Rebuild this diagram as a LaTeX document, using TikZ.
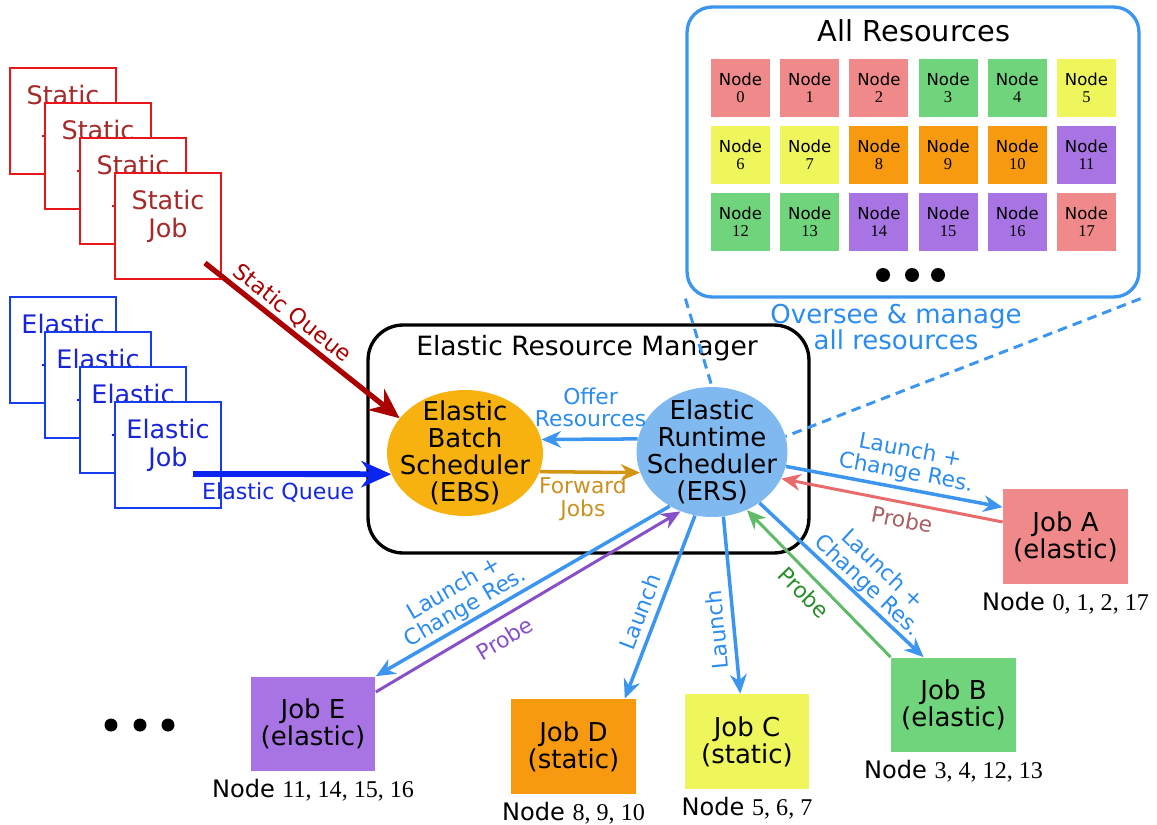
\documentclass[tikz,border=0pt]{standalone}
\usepackage{fontspec}
\setmainfont{DejaVu Sans}
\newfontfamily\numfont{Liberation Serif}
\usetikzlibrary{positioning, shapes.geometric, arrows.meta}

\definecolor{stackred}{RGB}{230,22,26}
\definecolor{stacktxtred}{RGB}{165,42,42}
\definecolor{stackblue}{RGB}{22,62,240}
\definecolor{stacktxtblue}{RGB}{24,36,214}
\definecolor{queuered}{RGB}{170,0,0}
\definecolor{queueblue}{RGB}{12,36,240}
\definecolor{queuetxtblue}{RGB}{20,40,225}
\definecolor{ebsfill}{RGB}{248,178,16}
\definecolor{ersfill}{RGB}{128,184,240}
\definecolor{flowblue}{RGB}{60,150,240}
\definecolor{flowtxt}{RGB}{42,140,240}
\definecolor{fwdgold}{RGB}{210,150,20}
\definecolor{fwdtxt}{RGB}{200,145,32}
\definecolor{jobpink}{RGB}{240,138,138}
\definecolor{jobgreen}{RGB}{112,212,124}
\definecolor{jobyellow}{RGB}{238,246,92}
\definecolor{joborange}{RGB}{248,154,16}
\definecolor{jobpurple}{RGB}{168,116,228}
\definecolor{probepink}{RGB}{232,106,106}
\definecolor{probepinktxt}{RGB}{170,96,96}
\definecolor{probegreen}{RGB}{96,186,104}
\definecolor{probegreentxt}{RGB}{40,140,40}
\definecolor{probepurple}{RGB}{136,80,200}

\newcommand{\fntbig}{\fontsize{14.8}{15.3}\selectfont}
\newcommand{\fnttitle}{\fontsize{16.4}{17}\selectfont}
\newcommand{\fntstack}{\fontsize{14.5}{15.9}\selectfont}
\newcommand{\fntlab}{\fontsize{12.4}{12.6}\selectfont}
\newcommand{\fntqueue}{\fontsize{12.6}{14}\selectfont}
\newcommand{\fntgrid}{\fontsize{9.4}{9.7}\selectfont}
\newcommand{\fntnode}{\fontsize{13.7}{15}\selectfont}

\tikzset{
  stackbox/.style={draw, fill=white, line width=1.1pt, minimum size=2.12cm, inner sep=0},
  stacktext/.style={inner sep=0, align=center, font=\fntstack},
  jobbox/.style={rectangle, minimum width=2.5cm, minimum height=1.9cm, inner sep=0, align=center, font=\fntbig},
  gridbox/.style={rectangle, minimum width=1.18cm, minimum height=1.16cm, inner sep=0, align=center, font=\fntgrid},
  sched/.style={ellipse, inner sep=0},
  schedtext/.style={align=center, font=\fntbig, inner sep=0},
  nodelist/.style={inner sep=0, font=\fntnode},
  flow/.style={draw=flowblue, line width=2pt, -{Stealth[length=11pt, width=9.5pt]}},
  flowlab/.style={text=flowtxt, font=\fntlab, align=center, inner sep=2pt},
  probe/.style={line width=1.7pt, -{Stealth[length=11pt, width=9.5pt]}},
  overseeline/.style={draw=flowblue, line width=1.7pt, dash pattern=on 5.5pt off 3.5pt},
}

\begin{document}
\begin{tikzpicture}[x=0.02cm, y=-0.02cm]
    \useasboundingbox (0,0) rectangle (1157,825);

    % Static job stack
    \foreach \k in {0,...,3} {
        \node[stackbox, draw=stackred] (st\k) at ({63+35*\k},{121+35*\k}) {};
        \node[stacktext, text=stacktxtred, below=10pt of st\k.north] (st\k-t) {Static\\Job};
    }

    % Elastic job stack
    \foreach \k in {0,...,3} {
        \node[stackbox, draw=stackblue] (el\k) at ({63+35*\k},{350+35*\k}) {};
        \node[stacktext, text=stacktxtblue, below=10pt of el\k.north] (el\k-t) {Elastic\\Job};
    }

    % Elastic Resource Manager with its two schedulers
    \node[draw, line width=1.9pt, rounded corners=0.7cm, minimum width=8.82cm, minimum height=4.56cm] (erm) at (588.5,439) {};
    \node[font=\fontsize{15.1}{16}\selectfont, inner sep=0] (erm-t) at (587,348) {Elastic Resource Manager};
    \node[sched, fill=ebsfill, minimum width=3.12cm, minimum height=2.52cm] (ebs) at (465,453) {};
    \node[schedtext] (ebs-t) at (ebs) {Elastic\\Batch\\Scheduler\\(EBS)};
    \node[sched, fill=ersfill, minimum width=3.02cm, minimum height=2.6cm] (ers) at (712,452) {};
    \node[schedtext] (ers-t) at (ers) {Elastic\\Runtime\\Scheduler\\(ERS)};

    % All resources
    \node[draw=flowblue, line width=1.9pt, rounded corners=0.5cm, minimum width=9.04cm, minimum height=5.8cm] (allres) at (913,152) {};
    \node[font=\fnttitle, inner sep=0] (allres-t) at (914,31) {All Resources};
    \foreach \c [count=\i from 0] in {jobpink,jobpink,jobpink,jobgreen,jobgreen,jobyellow,
                                     jobyellow,jobyellow,joborange,joborange,joborange,jobpurple,
                                     jobgreen,jobgreen,jobpurple,jobpurple,jobpurple,jobpink} {
        \pgfmathtruncatemacro{\gc}{mod(\i,6)}
        \pgfmathtruncatemacro{\gr}{div(\i,6)}
        \node[gridbox, fill=\c] (n\i) at ({740.5+69.2*\gc},{88+67*\gr}) {Node\\{\numfont\i}};
    }
    \foreach \x in {883,912,938} \fill (\x,275) circle (0.14cm);

    % Oversee lines
    \draw[overseeline] (allres.south west) -- (ers.north);
    \draw[overseeline] (allres.south east) -- (ers.12);
    \node[font=\fntbig, text=flowtxt, align=center, inner sep=0] (oversee) at (896,327) {Oversee \& manage\\all resources};

    % Jobs
    \node[jobbox, fill=jobpink] (jobA) at (1065.5,536.5) {Job A\\(elastic)};
    \node[jobbox, fill=jobgreen] (jobB) at (953.5,705) {Job B\\(elastic)};
    \node[jobbox, fill=jobyellow] (jobC) at (747,741.5) {Job C\\(static)};
    \node[jobbox, fill=joborange] (jobD) at (573.5,746.5) {Job D\\(static)};
    \node[jobbox, fill=jobpurple] (jobE) at (313,724) {Job E\\(elastic)};
    \node[nodelist, below=4pt of jobA] (jobA-n) {Node {\numfont 0, 1, 2, 17}};
    \node[nodelist, below=4pt of jobB] (jobB-n) {Node {\numfont 3, 4, 12, 13}};
    \node[nodelist, below=4pt of jobC] (jobC-n) {Node {\numfont 5, 6, 7}};
    \node[nodelist, below=4pt of jobD] (jobD-n) {Node {\numfont 8, 9, 10}};
    \node[nodelist, below=4pt of jobE] (jobE-n) {Node {\numfont 11, 14, 15, 16}};
    \foreach \x in {111,140,168} \fill (\x,725) circle (0.13cm);

    % Queues
    \coordinate (sqstart) at (205,263);
    \coordinate (eqstart) at (193,474);
    \draw[queuered, line width=3pt, -{Stealth[length=17pt, width=15pt]}] (sqstart) --
        node[sloped, above, pos=0.4, font=\fntqueue, inner sep=1.5pt] (sq-l) {Static Queue} (ebs.152);
    \draw[queueblue, line width=3.3pt, -{Stealth[length=17pt, width=15pt]}] (eqstart) --
        node[below, pos=0.43, font=\fntqueue, text=queuetxtblue, inner sep=3pt] (eq-l) {Elastic Queue} (ebs.196);

    % Between the schedulers
    \draw[flow] (ers.170) -- node[flowlab, above=4pt, pos=0.49] (offer-l) {Offer\\Resources} (ebs.10);
    \draw[fwdgold, line width=2pt, -{Stealth[length=11pt, width=9.5pt]}] (ebs.-14) --
        node[below, pos=0.43, text=fwdtxt, font=\fntlab, align=center, inner sep=2pt] (fwd-l) {Forward\\Jobs} (ers.196);

    % Launch and probe
    \draw[flow] (ers.-11) -- node[flowlab, sloped, above, pos=0.54] (la-l) {Launch +\\Change Res.} (jobA.155);
    \draw[probe, probepink] (jobA.167) -- node[sloped, below, pos=0.44, text=probepinktxt, font=\fntlab, inner sep=4pt] (pa-l) {Probe} (ers.-21);
    \draw[flow] (ers.-47) -- node[flowlab, sloped, above, pos=0.6, inner sep=0.5pt] (lb-l) {Launch +\\Change Res.} (jobB.122);
    \draw[probe, probegreen] (jobB.north west) -- node[sloped, below, pos=0.52, text=probegreentxt, font=\fntlab, inner sep=4pt] (pb-l) {Probe} (ers.-59);
    \draw[flow] (ers.-80) -- node[flowlab, pos=0.63, rotate=95.5, anchor=south, inner sep=4pt] (lc-l) {Launch} (jobC.98);
    \draw[flow] (ers.-105) -- node[flowlab, sloped, above, pos=0.56, inner sep=4pt] (ld-l) {Launch} (jobD.43);
    \draw[flow] (ers.-128) -- node[flowlab, sloped, above, pos=0.67, inner sep=1pt] (le-l) {Launch +\\Change Res.} (jobE.north east);
    \draw[probe, probepurple] (jobE.27) -- node[sloped, below, pos=0.39, text=probepurple, font=\fntlab, inner sep=5.5pt] (pe-l) {Probe} (ers.-118);
\end{tikzpicture}
\end{document}
